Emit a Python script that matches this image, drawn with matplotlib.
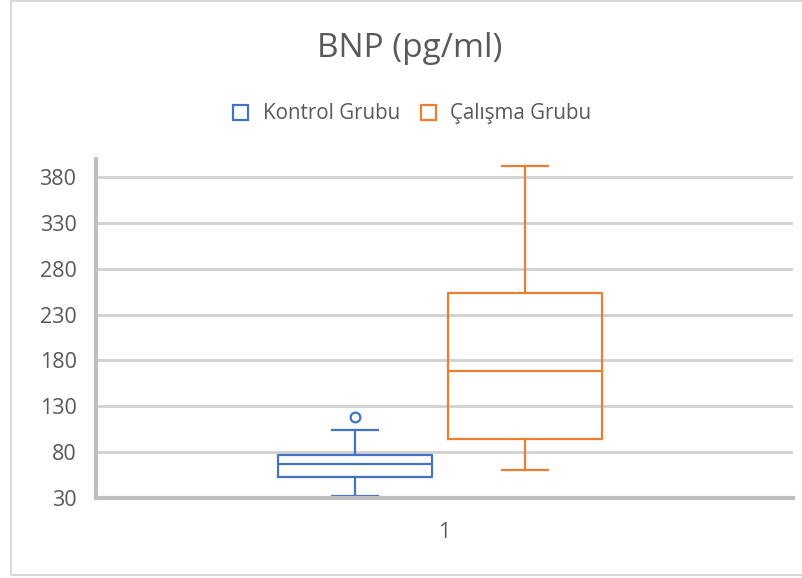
import matplotlib
matplotlib.use("Agg")
import matplotlib.pyplot as plt
from matplotlib.patches import Patch, Rectangle

plt.rcParams['font.family'] = ['Open Sans', 'DejaVu Sans']

groups = ["Kontrol Grubu", "Çalışma Grubu"]
colors = ["#4472C4", "#ED7D31"]
whislo = [32, 60]
q1 = [52, 93.5]
med = [67, 168]
q3 = [77, 253]
whishi = [104, 392]
fliers = [[118.5], []]
category = "1"
yticks = [30, 80, 130, 180, 230, 280, 330, 380]

fig = plt.figure(figsize=(8.02, 5.78), dpi=100)
ax = fig.add_axes([96/802, 1-497.5/578, (793-96)/802, (497.5-159)/578])

positions = [0.3716, 0.6155]
for i in range(2):
    st = [dict(med=med[i], q1=q1[i], q3=q3[i], whislo=whislo[i], whishi=whishi[i],
               fliers=fliers[i], label=groups[i])]
    c = colors[i]
    ax.bxp(st, positions=[positions[i]], widths=0.222, capwidths=0.066,
           showfliers=True, patch_artist=False, manage_ticks=False,
           boxprops=dict(color=c, linewidth=1.6),
           medianprops=dict(color=c, linewidth=1.6),
           whiskerprops=dict(color=c, linewidth=1.6),
           capprops=dict(color=c, linewidth=1.6),
           flierprops=dict(marker='o', markerfacecolor='white', markeredgecolor=c,
                           markersize=7, markeredgewidth=1.6))

ax.set_xlim(0, 1)
ax.set_ylim(30, 400)
ax.set_yticks(yticks)
ax.set_xticks([0.5])
ax.set_xticklabels([category])
ax.yaxis.grid(True, color='#d0d0d0', linewidth=2)
ax.set_axisbelow(True)
for s in ['top', 'right']:
    ax.spines[s].set_visible(False)
for s in ['left', 'bottom']:
    ax.spines[s].set_color('#bfbfbf')
    ax.spines[s].set_linewidth(3)
ax.tick_params(axis='both', length=0, labelsize=15.5, labelcolor='#595959')
ax.tick_params(axis='y', pad=14)
ax.tick_params(axis='x', pad=18)

fig.text(0.511, 1 - 57/578, "BNP (pg/ml)", ha='center', va='baseline', fontsize=24, color='#595959')

handles = [Patch(facecolor='white', edgecolor=c, linewidth=1.6) for c in colors]
fig.legend(handles, groups, loc='center', bbox_to_anchor=(0.514, 0.803), ncol=2,
           frameon=False, fontsize=14.8, labelcolor='#595959',
           handlelength=0.75, handleheight=0.75, handletextpad=0.7, columnspacing=1.0)

fig.patches.append(Rectangle((11/802, 3/578), 1.2, 1 - 4/578, transform=fig.transFigure,
                             fill=False, edgecolor='#d9d9d9', linewidth=1.5))

fig.savefig("out.png", dpi=100)
